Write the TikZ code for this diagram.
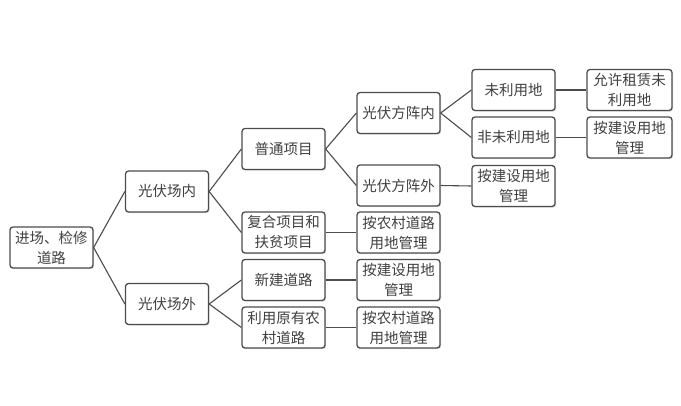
\documentclass[tikz,border=0pt]{standalone}
\usepackage{fontspec}
\setmainfont{Noto Sans CJK SC}
\usetikzlibrary{shadows}
\begin{document}
\begin{tikzpicture}[x=1pt, y=-1pt,
    box/.style={draw=black!70, line width=1.3pt, rounded corners=3pt, fill=white,
        text=black!75, minimum width=83pt, minimum height=41pt, text width=80pt,
        align=center, inner sep=1pt, font=\fontsize{14.5}{20}\selectfont,
        drop shadow={shadow xshift=1.2pt, shadow yshift=-1.2pt, opacity=0.25}},
    link/.style={draw=black!70, line width=1.1pt}]
    \useasboundingbox (0,0) rectangle (681,405);
    % 第一、二层
    \node[box] (root) at (51.5, 247.5) {进场、检修\\道路};
    \node[box] (inside) at (167, 191.5) {光伏场内};
    \node[box] (outside) at (167, 304) {光伏场外};
    % 第三层
    \node[box] (normal) at (283.5, 149) {普通项目};
    \node[box] (compound) at (283.5, 232.5) {复合项目和\\扶贫项目};
    \node[box] (newroad) at (283.5, 280) {新建道路};
    \node[box] (oldroad) at (283.5, 327.5) {利用原有农\\村道路};
    % 第四层
    \node[box] (arrayin) at (398.5, 113) {光伏方阵内};
    \node[box] (arrayout) at (398.5, 185.5) {光伏方阵外};
    \node[box] (rurala) at (398.5, 232.5) {按农村道路\\用地管理};
    \node[box] (builda) at (398.5, 280) {按建设用地\\管理};
    \node[box] (ruralb) at (398.5, 327.5) {按农村道路\\用地管理};
    % 第五、六层
    \node[box] (unused) at (513.5, 90) {未利用地};
    \node[box] (notunused) at (513.5, 137.5) {非未利用地};
    \node[box] (buildb) at (513.5, 186) {按建设用地\\管理};
    \node[box, minimum width=85pt] (lease) at (629.5, 90) {允许租赁未\\利用地};
    \node[box, minimum width=85pt] (buildc) at (629.5, 137.5) {按建设用地\\管理};
    % 连线
    \draw[link] (root.east) -- (inside.west);
    \draw[link] (root.east) -- (outside.west);
    \draw[link] (inside.east) -- (normal.west);
    \draw[link] (inside.east) -- (compound.west);
    \draw[link] (outside.east) -- (newroad.west);
    \draw[link] (outside.east) -- (oldroad.west);
    \draw[link] (normal.east) -- (arrayin.west);
    \draw[link] (normal.east) -- (arrayout.west);
    \draw[link] (compound.east) -- (rurala.west);
    \draw[link] (newroad.east) -- (builda.west);
    \draw[link] (oldroad.east) -- (ruralb.west);
    \draw[link] (arrayin.east) -- (unused.west);
    \draw[link] (arrayin.east) -- (notunused.west);
    \draw[link] (arrayout.east) -- (buildb.west);
    \draw[link] (unused.east) -- (lease.west);
    \draw[link] (notunused.east) -- (buildc.west);
\end{tikzpicture}
\end{document}
